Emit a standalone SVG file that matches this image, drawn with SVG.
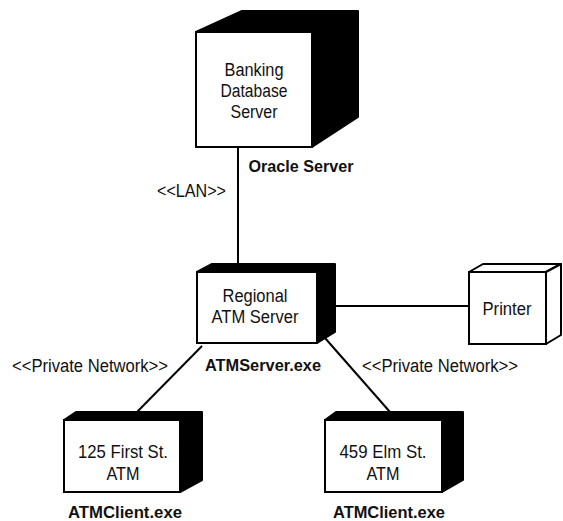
<svg xmlns="http://www.w3.org/2000/svg" width="563" height="521" viewBox="0 0 563 521">
<style>
.face{fill:#fff;stroke:#000;stroke-width:2}
.solid{fill:#000;stroke:#000;stroke-width:2;stroke-linejoin:round}
.open{fill:#fff;stroke:#000;stroke-width:2;stroke-linejoin:round}
.conn{stroke:#000;stroke-width:2;fill:none}
text{font-family:"Liberation Sans",Arial,sans-serif;fill:#111}
.t{font-size:18px;text-anchor:middle}
.lbl{font-size:18px}
.b{font-size:17px;font-weight:bold;text-anchor:middle}
</style>
<rect width="563" height="521" fill="#fff"/>
<g id="connectors">
<line class="conn" x1="238" y1="147" x2="238" y2="268"/>
<line class="conn" x1="335" y1="306" x2="469" y2="306"/>
<line class="conn" x1="202" y1="346" x2="137" y2="412"/>
<line class="conn" x1="325" y1="338" x2="390" y2="412"/>
<text class="lbl" x="157" y="197" textLength="69" lengthAdjust="spacingAndGlyphs">&lt;&lt;LAN&gt;&gt;</text>
<text class="lbl" x="12" y="372" textLength="156" lengthAdjust="spacingAndGlyphs">&lt;&lt;Private Network&gt;&gt;</text>
<text class="lbl" x="362" y="372" textLength="156" lengthAdjust="spacingAndGlyphs">&lt;&lt;Private Network&gt;&gt;</text>
</g>
<g id="db">
<polygon class="solid" points="196,32 242,11 358,11 358,117 312,147 312,32"/>
<rect class="face" x="196" y="32" width="116" height="115"/>
<text class="t" x="254" y="76" textLength="59" lengthAdjust="spacingAndGlyphs">Banking</text>
<text class="t" x="254" y="97" textLength="67" lengthAdjust="spacingAndGlyphs">Database</text>
<text class="t" x="254" y="118" textLength="47" lengthAdjust="spacingAndGlyphs">Server</text>
<text class="b" x="301" y="172" textLength="105" lengthAdjust="spacingAndGlyphs">Oracle Server</text>
</g>
<g id="regional">
<polygon class="solid" points="197,272 212,264 335,264 335,332 317,343 317,272"/>
<rect class="face" x="197" y="272" width="120" height="71"/>
<text class="t" x="255" y="302" textLength="65" lengthAdjust="spacingAndGlyphs">Regional</text>
<text class="t" x="255" y="323" textLength="87" lengthAdjust="spacingAndGlyphs">ATM Server</text>
<text class="b" x="263" y="371" textLength="116" lengthAdjust="spacingAndGlyphs">ATMServer.exe</text>
</g>
<g id="printer">
<polygon class="open" points="469,272 483,264 561,264 546,272"/>
<polygon class="open" points="546,272 561,264 561,335 546,344"/>
<rect class="face" x="469" y="272" width="77" height="72"/>
<text class="t" x="507" y="315" textLength="49" lengthAdjust="spacingAndGlyphs">Printer</text>
</g>
<g id="atm125">
<polygon class="solid" points="64,420 76,412 202,412 202,480 180,492 180,420"/>
<rect class="face" x="64" y="420" width="116" height="72"/>
<text class="t" x="123" y="458" textLength="90" lengthAdjust="spacingAndGlyphs">125 First St.</text>
<text class="t" x="123" y="480" textLength="33" lengthAdjust="spacingAndGlyphs">ATM</text>
<text class="b" x="125" y="518" textLength="114" lengthAdjust="spacingAndGlyphs">ATMClient.exe</text>
</g>
<g id="atm459">
<polygon class="solid" points="325,420 336,412 463,412 463,480 442,492 442,420"/>
<rect class="face" x="325" y="420" width="117" height="72"/>
<text class="t" x="383" y="458" textLength="87" lengthAdjust="spacingAndGlyphs">459 Elm St.</text>
<text class="t" x="383" y="480" textLength="33" lengthAdjust="spacingAndGlyphs">ATM</text>
<text class="b" x="389" y="518" textLength="112" lengthAdjust="spacingAndGlyphs">ATMClient.exe</text>
</g>
</svg>
